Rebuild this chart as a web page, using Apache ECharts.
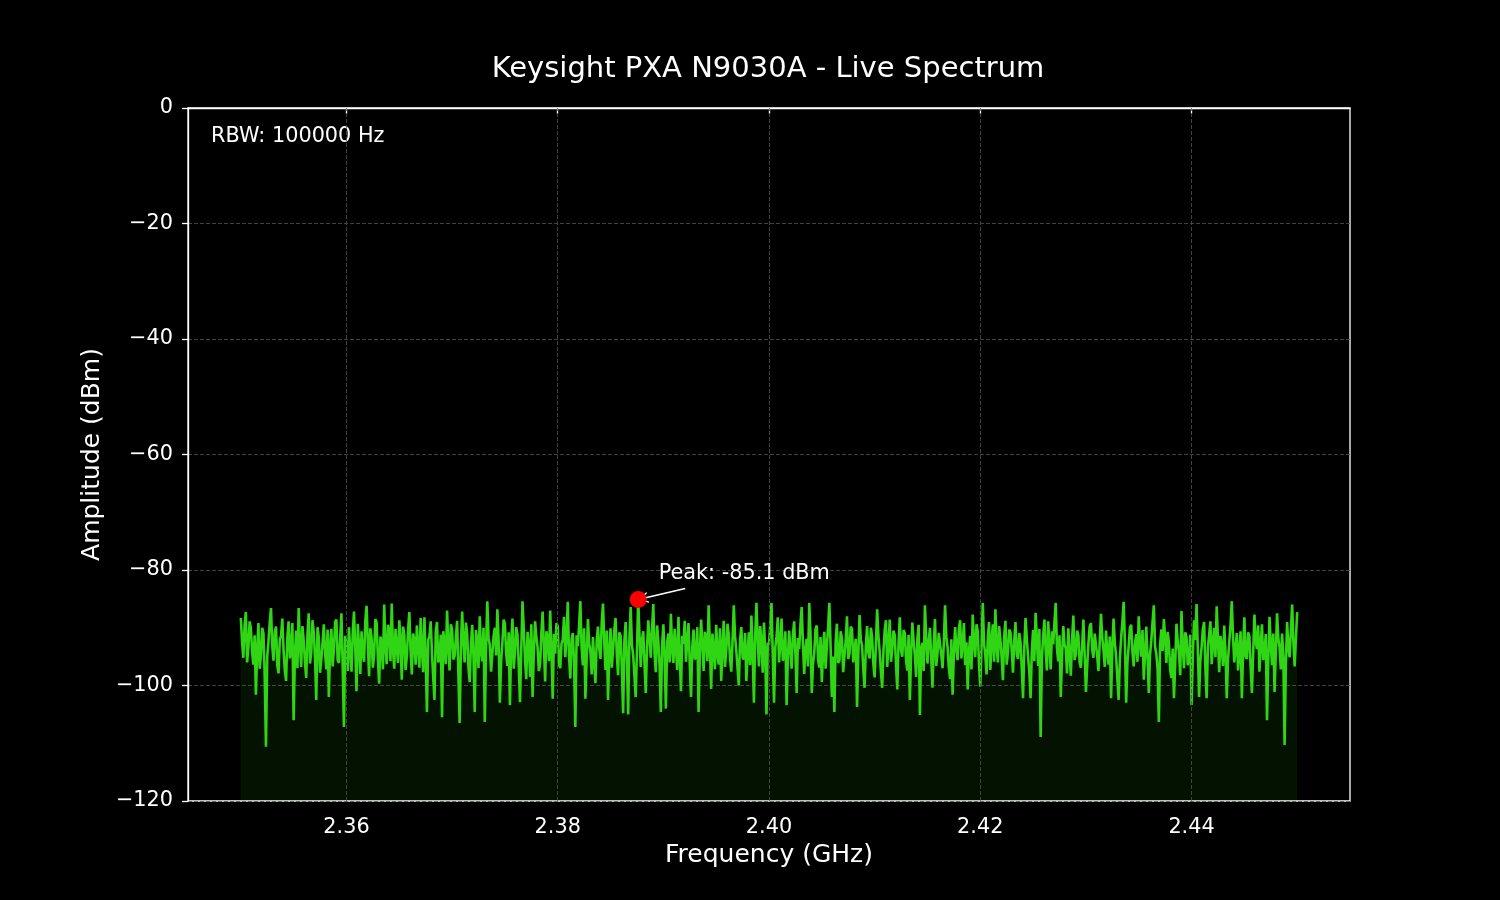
<!DOCTYPE html>
<html lang="en">
<head>
    <meta charset="UTF-8">
    <title>Keysight PXA N9030A - Live Spectrum</title>
    <style>
        * { padding: 0; margin: 0; box-sizing: border-box; }
        html, body { width: 100%; height: 100%; overflow: hidden; background: #000; }
        #box { width: 1500px; height: 900px; }
    </style>
</head>
<body>
    <div id="box"></div>
</body>
<script src="https://cdn.jsdelivr.net/npm/echarts@6/dist/echarts.min.js"></script>
<script>
    // sweep settings (GHz) and the trace, 841 points
    var startGHz = 2.35;
    var stopGHz = 2.45;
    var rbwHz = 100000;
    var xTicks = [2.36, 2.38, 2.40, 2.42, 2.44];
    var amplitude = [
        -88.3, -92.4, -95.2, -89.6, -87.3, -96.0, -93.5, -88.9, -90.1, -94.2, -96.4, -91.3, -101.6, -93.8, -89.2, -97.1, -94.8, -90.0, -91.0, -98.3,
        -110.6, -95.0, -92.3, -89.1, -86.6, -93.2, -95.7, -90.7, -89.8, -96.5, -97.9, -92.0, -91.4, -88.4, -94.0, -97.4, -99.2, -91.6, -88.9, -95.3,
        -93.6, -89.2, -106.0, -94.7, -90.5, -97.0, -86.6, -92.8, -96.8, -89.7, -92.2, -95.9, -98.7, -91.1, -87.5, -96.2, -94.3, -88.7, -90.8, -95.1,
        -102.5, -89.9, -91.7, -97.8, -95.5, -92.6, -89.4, -94.4, -97.2, -90.3, -102.0, -93.0, -90.2, -96.7, -93.9, -89.0, -88.6, -95.6, -96.1, -91.9,
        -87.5, -96.6, -107.2, -91.4, -92.9, -97.5, -89.9, -94.1, -97.6, -90.9, -87.2, -93.6, -101.0, -89.3, -93.1, -98.0, -90.6, -94.5, -95.9, -88.8,
        -86.2, -92.7, -98.4, -90.1, -91.8, -96.9, -94.6, -88.5, -89.1, -95.4, -99.7, -91.5, -92.5, -97.2, -86.0, -93.3, -96.3, -89.5, -90.4, -95.8,
        -85.8, -93.9, -97.1, -90.2, -93.3, -96.1, -88.7, -92.3, -99.0, -89.8, -91.2, -97.3, -95.0, -90.5, -87.3, -94.0, -98.1, -91.0, -92.0, -96.4,
        -89.6, -93.5, -96.9, -88.3, -93.7, -97.7, -88.2, -95.2, -104.6, -92.1, -91.5, -88.9, -94.4, -98.6, -102.5, -90.7, -89.0, -96.0, -95.3, -91.2,
        -105.5, -90.6, -92.7, -96.3, -87.0, -93.1, -97.4, -89.4, -90.3, -95.5, -94.9, -91.7, -88.8, -97.9, -106.5, -93.4, -87.2, -92.5, -96.0, -89.1,
        -91.1, -96.8, -99.4, -92.9, -89.5, -95.0, -104.6, -90.4, -92.4, -97.0, -88.0, -94.3, -95.8, -90.0, -106.3, -93.7, -85.4, -91.8, -93.0, -97.6,
        -97.8, -91.4, -90.0, -94.8, -86.8, -92.2, -103.0, -95.7, -92.6, -88.6, -89.3, -94.6, -96.6, -90.8, -103.4, -92.4, -88.4, -97.1, -94.1, -89.9,
        -91.3, -96.5, -102.9, -93.8, -85.4, -90.3, -95.6, -98.9, -90.7, -93.0, -98.5, -89.4, -102.0, -94.2, -88.9, -91.6, -93.4, -97.5, -96.2, -90.9,
        -87.2, -93.1, -99.3, -90.6, -91.9, -95.8, -87.0, -94.0, -102.3, -91.1, -94.5, -89.2, -89.7, -96.3, -97.0, -92.8, -92.1, -88.1, -95.1, -91.7,
        -85.5, -94.9, -98.8, -92.0, -90.9, -96.1, -107.2, -91.3, -93.2, -89.6, -85.4, -93.5, -96.5, -90.1, -102.3, -95.3, -88.5, -92.7, -94.2, -98.1,
        -91.6, -95.9, -99.6, -92.2, -89.8, -93.6, -95.4, -89.0, -85.8, -92.6, -97.3, -90.5, -102.5, -94.1, -90.1, -96.9, -93.8, -90.4, -88.3, -94.8,
        -98.2, -90.8, -91.4, -97.0, -104.8, -92.3, -89.0, -95.6, -105.0, -91.9, -86.4, -93.0, -94.7, -98.4, -102.0, -93.9, -85.1, -91.2, -96.8, -92.1,
        -90.6, -96.2, -101.3, -93.4, -88.7, -91.8, -95.2, -90.3, -85.9, -94.5, -97.7, -89.6, -92.3, -96.6, -104.6, -93.1, -89.4, -95.0, -104.0, -92.5,
        -91.0, -96.0, -87.6, -93.7, -96.1, -90.2, -93.5, -97.3, -88.1, -94.9, -101.0, -91.4, -92.8, -88.8, -95.9, -92.2, -89.2, -96.4, -102.0, -93.3,
        -90.3, -95.5, -94.9, -89.9, -104.6, -94.3, -88.6, -92.9, -97.5, -90.7, -91.7, -95.8, -86.1, -93.2, -100.6, -91.0, -93.6, -97.2, -89.5, -94.6,
        -96.4, -90.1, -99.2, -93.6, -88.8, -96.8, -94.0, -89.3, -91.2, -95.3, -97.6, -92.4, -86.1, -91.5, -93.9, -97.0, -100.0, -92.0, -89.9, -95.1,
        -95.5, -90.9, -99.2, -94.4, -90.8, -96.5, -87.9, -93.8, -103.0, -91.6, -85.7, -92.0, -96.7, -89.7, -92.4, -97.8, -89.1, -94.2, -105.0, -92.6,
        -93.0, -89.4, -85.7, -94.7, -103.0, -93.4, -91.5, -88.2, -96.0, -92.7, -88.4, -95.7, -94.6, -90.6, -103.4, -95.2, -90.5, -93.9, -97.1, -91.3,
        -88.9, -94.5, -101.3, -91.8, -93.7, -89.5, -86.4, -92.9, -98.0, -93.5, -91.9, -96.7, -85.7, -91.1, -101.3, -96.2, -94.3, -90.2, -89.6, -95.5,
        -96.9, -91.6, -99.4, -94.1, -90.7, -97.1, -93.3, -89.9, -85.7, -93.4, -102.0, -95.0, -104.6, -92.3, -89.3, -96.1, -95.7, -90.6, -91.8, -97.7,
        -97.9, -92.2, -88.0, -95.4, -94.5, -89.8, -90.2, -96.0, -96.3, -91.9, -103.7, -94.8, -87.8, -92.1, -93.1, -97.3, -100.4, -93.2, -89.7, -94.3,
        -95.3, -90.0, -91.6, -96.3, -98.6, -92.9, -86.8, -91.4, -94.1, -97.6, -100.4, -94.0, -90.4, -88.7, -96.8, -93.0, -88.6, -95.9, -93.8, -90.5,
        -91.3, -96.4, -100.7, -92.7, -88.2, -93.9, -95.0, -90.4, -90.9, -95.7, -97.4, -91.2, -102.5, -94.6, -89.1, -92.3, -94.8, -98.5, -91.9, -89.5,
        -105.1, -93.6, -92.6, -97.5, -86.1, -91.8, -96.2, -92.4, -90.0, -95.1, -100.4, -93.0, -88.5, -96.6, -94.4, -90.9, -91.1, -94.7, -97.0, -92.8,
        -86.1, -91.5, -93.4, -96.9, -98.9, -92.0, -101.6, -94.5, -89.9, -93.7, -95.6, -90.1, -88.7, -95.3, -93.0, -89.2, -96.5, -92.5, -100.7, -94.1,
        -91.4, -97.2, -87.7, -92.6, -95.1, -89.4, -90.6, -96.3, -100.2, -93.1, -85.7, -92.8, -94.7, -98.1, -91.7, -89.0, -97.3, -92.2, -89.4, -95.9,
        -86.8, -93.3, -96.0, -89.7, -92.0, -95.2, -99.1, -91.6, -88.8, -96.4, -94.2, -90.3, -90.8, -93.9, -97.8, -92.4, -89.0, -94.6, -95.4, -90.9,
        -92.5, -97.0, -102.2, -93.5, -88.3, -91.9, -94.9, -97.7, -102.2, -94.0, -90.4, -95.8, -87.4, -92.0, -96.6, -90.2, -108.9, -95.3, -91.5, -88.6,
        -94.0, -97.4, -88.9, -93.1, -97.2, -90.6, -92.9, -89.0, -85.7, -93.7, -95.8, -91.3, -102.0, -95.1, -89.7, -92.9, -93.6, -97.9, -90.1, -94.4,
        -98.3, -92.1, -87.9, -95.6, -94.6, -90.5, -91.3, -96.0, -96.9, -93.2, -88.6, -94.5, -101.1, -96.7, -92.7, -89.8, -89.2, -93.8, -95.2, -91.0,
        -91.0, -94.9, -97.5, -92.3, -87.6, -91.7, -93.9, -96.8, -90.5, -94.3, -96.4, -91.5, -102.2, -93.7, -88.4, -92.6, -94.8, -98.8, -102.5, -95.4,
        -91.8, -89.1, -85.5, -92.5, -103.0, -96.1, -93.2, -90.0, -89.5, -94.2, -96.7, -92.8, -91.1, -95.9, -88.0, -93.0, -95.0, -90.4, -99.0, -94.7,
        -89.8, -95.0, -101.3, -94.6, -92.2, -89.0, -86.1, -93.3, -94.5, -97.1, -106.3, -92.9, -90.3, -94.0, -88.5, -91.9, -96.1, -90.7, -92.6, -97.3,
        -98.7, -93.6, -102.2, -96.3, -89.3, -92.4, -94.3, -98.2, -87.1, -93.1, -97.0, -90.8, -91.6, -96.5, -95.5, -91.2, -103.4, -94.9, -88.7, -92.1,
        -85.9, -93.8, -102.0, -95.7, -93.3, -90.2, -89.0, -96.9, -102.2, -93.4, -91.2, -88.9, -96.3, -92.7, -90.0, -95.1, -86.3, -92.0, -97.7, -91.4,
        -93.1, -96.6, -89.6, -94.2, -102.2, -95.5, -92.4, -89.5, -85.4, -91.7, -96.0, -93.5, -90.9, -97.4, -94.0, -90.6, -102.2, -93.9, -88.2, -95.0,
        -95.4, -90.8, -91.5, -96.8, -101.3, -94.4, -87.7, -92.3, -93.7, -89.6, -97.6, -93.0, -89.4, -95.6, -94.6, -91.1, -106.0, -95.8, -88.1, -92.8,
        -96.5, -91.0, -101.1, -94.3, -87.5, -91.9, -93.4, -97.2, -91.0, -94.8, -110.3, -96.2, -89.0, -93.6, -95.1, -90.5, -86.0, -92.6, -96.7, -91.7,
        -87.3
    ];

    var box = echarts.init(document.getElementById("box"));
    var font = "DejaVu Sans";

    var trace = [];
    var step = (stopGHz - startGHz) / (amplitude.length - 1);
    var peakIdx = 0;
    for (var i = 0; i < amplitude.length; i++) {
        trace.push([startGHz + i * step, amplitude[i]]);
        if (amplitude[i] > amplitude[peakIdx]) peakIdx = i;
    }
    var peak = trace[peakIdx];

    var option = {
        backgroundColor: '#000',
        animation: false,
        title: {
            text: 'Keysight PXA N9030A - Live Spectrum',
            left: 763,
            textAlign: 'center',
            top: 50,
            textStyle: { color: '#fff', fontFamily: font, fontSize: 29, fontWeight: 'normal' }
        },
        grid: {
            left: 188, right: 150, top: 108, bottom: 99,
            show: true,
            borderColor: '#fff',
            borderWidth: 1.3
        },
        graphic: [{
            type: 'text',
            left: 211,
            top: 126,
            style: { text: 'RBW: ' + rbwHz + ' Hz', fill: '#fff', font: '20.8px "DejaVu Sans"' }
        }],
        xAxis: {
            type: 'value',
            min: 2.345,
            max: 2.455,
            name: 'Frequency (GHz)',
            nameLocation: 'middle',
            nameGap: 42,
            nameTextStyle: { color: '#fff', fontFamily: font, fontSize: 25 },
            axisLine: { lineStyle: { color: '#fff', width: 1.3 } },
            axisTick: { show: true, length: 6, customValues: xTicks, lineStyle: { color: '#fff', width: 1.3 } },
            axisLabel: {
                customValues: xTicks,
                margin: 16,
                color: '#fff', fontFamily: font, fontSize: 20.8,
                formatter: function (v) { return v.toFixed(2); }
            },
            splitLine: { show: false }
        },
        yAxis: {
            type: 'value',
            min: -120,
            max: 0,
            interval: 20,
            name: 'Amplitude (dBm)',
            nameLocation: 'middle',
            nameRotate: 90,
            nameGap: 82,
            nameTextStyle: { color: '#fff', fontFamily: font, fontSize: 25 },
            axisLine: { show: true, lineStyle: { color: '#fff', width: 1.3 } },
            axisTick: { show: true, length: 6, lineStyle: { color: '#fff', width: 1.3 } },
            axisLabel: {
                margin: 15,
                padding: [4, 0, 0, 0],
                color: '#fff', fontFamily: font, fontSize: 20.8,
                formatter: function (v) { return v === 0 ? '0' : '\u2212' + Math.abs(v); }
            },
            splitLine: { show: true, lineStyle: { color: '#505050', width: 0.8, type: [4, 2] } }
        },
        series: [
            {
                // vertical grid lines at the frequency ticks
                name: 'vgrid',
                type: 'line',
                data: [],
                z: 1,
                markLine: {
                    silent: true,
                    symbol: 'none',
                    label: { show: false },
                    lineStyle: { color: '#505050', width: 0.8, type: [4, 2] },
                    data: xTicks.map(function (t) { return { xAxis: t }; })
                }
            },
            {
                name: 'Spectrum',
                type: 'line',
                z: 2,
                data: trace,
                showSymbol: false,
                symbol: 'none',
                lineStyle: { color: '#30d514', width: 2.6 },
                areaStyle: { origin: 'start', color: 'rgba(57,255,20,0.1)' }
            },
            {
                name: 'Peak',
                type: 'scatter',
                z: 5,
                data: [peak],
                symbolSize: 17,
                itemStyle: { color: '#ff0000', opacity: 1 },
                label: {
                    show: true,
                    position: [29, -28],
                    align: 'left',
                    verticalAlign: 'top',
                    color: '#fff',
                    fontFamily: font,
                    fontSize: 20.8,
                    formatter: 'Peak: ' + peak[1].toFixed(1) + ' dBm'
                },
                markLine: {
                    silent: true,
                    symbol: ['none', 'path://M0,10 L5,0 L10,10 L8.6,10 L5,2.6 L1.4,10 Z'],
                    symbolSize: [11, 11],
                    label: { show: false },
                    lineStyle: { color: '#fff', width: 1.6, type: 'solid' },
                    data: [[
                        { coord: [peak[0] + 0.00445, peak[1] + 1.9] },
                        { coord: [peak[0] + 0.0004, peak[1] + 0.15] }
                    ]]
                }
            }
        ]
    };
    box.setOption(option);
</script>
</html>
